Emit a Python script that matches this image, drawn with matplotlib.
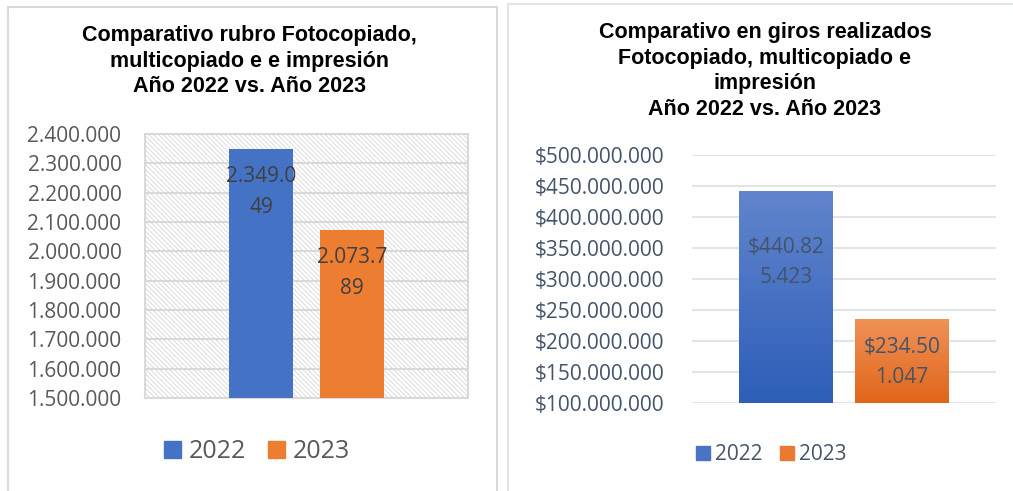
import numpy as np
import matplotlib
matplotlib.use('Agg')
import matplotlib.pyplot as plt
from matplotlib.patches import Rectangle, Patch
from matplotlib.colors import LinearSegmentedColormap

# datos
series = ['2022', '2023']
cantidades = [2349049, 2073789]
etiquetas_cant = ['2.349.0\n49', '2.073.7\n89']
montos = [440825423, 234501047]
etiquetas_monto = ['$440.82\n5.423', '$234.50\n1.047']
ticks_izq = np.arange(1500000, 2400001, 100000)
ticks_der = np.arange(100000000, 500000001, 50000000)

titulo_izq = 'Comparativo rubro Fotocopiado,\nmulticopiado e e impresión\nAño 2022 vs. Año 2023'
titulo_der = 'Comparativo en giros realizados\nFotocopiado, multicopiado e\nimpresión\nAño 2022 vs. Año 2023'

W, H = 1013, 491
FONT = 'Open Sans'
TFONT = 'Liberation Sans'

def fx(x):
    return x / W

def fy(y):
    return 1 - y / H

def miles(v, prefijo=''):
    return prefijo + f'{int(v):,}'.replace(',', '.')

fig = plt.figure(figsize=(W / 100, H / 100), dpi=100)

# marcos de los paneles
fig.add_artist(Rectangle((fx(7.5), fy(520)), fx(489), 520 / H - 6.5 / H,
                         fill=False, edgecolor='#d9d9d9', linewidth=1.5))
fig.add_artist(Rectangle((fx(507.5), fy(520)), fx(600), 520 / H - 4 / H,
                         fill=False, edgecolor='#dfe3ea', linewidth=1.5))

# ---------- grafico izquierdo ----------
ax1 = fig.add_axes([fx(145), fy(398), fx(323), 264 / H])
ax1.set_xlim(-0.5, 0.5)
ax1.set_ylim(1500000, 2400000)
plt.rcParams['hatch.linewidth'] = 0.6
ax1.add_patch(Rectangle((-0.5, 1500000), 1, 900000, facecolor='white',
                        edgecolor='#d6d6d6', hatch='\\' * 7, linewidth=0, zorder=0))
for t in ticks_izq:
    ax1.axhline(t, color='#d9d9d9', linewidth=1.5, zorder=1)
pos1 = [-0.141, 0.141]
cols1 = ['#4472c4', '#ed7d31']
ax1.bar(pos1, cantidades, width=0.198, bottom=0, color=cols1, zorder=3)
for p, v, lab in zip(pos1, cantidades, etiquetas_cant):
    ax1.annotate(lab, (p, v), xytext=(0, -31), textcoords='offset points',
                 ha='center', va='center', fontsize=15, family=FONT,
                 color='#404040', linespacing=1.6, zorder=4)
ax1.set_xticks([])
ax1.set_yticks(ticks_izq)
ax1.set_yticklabels([miles(t) for t in ticks_izq], family=FONT, fontsize=15, color='#595959')
ax1.tick_params(axis='y', length=0, pad=17)
for s in ax1.spines.values():
    s.set_color('#d9d9d9')
    s.set_linewidth(1.5)

fig.text(fx(249), fy(61), titulo_izq, ha='center', va='center', fontsize=15.5,
         family=TFONT, fontweight='bold', linespacing=1.28)

h1 = [Patch(color=c) for c in cols1]
fig.legend(h1, series, loc='center', bbox_to_anchor=(fx(257), fy(452)), ncol=2,
           frameon=False, prop={'family': FONT, 'size': 18}, labelcolor='#595959',
           handlelength=0.68, handleheight=0.68, handletextpad=0.32, columnspacing=0.88)

# ---------- grafico derecho ----------
ax2 = fig.add_axes([fx(692), fy(403), fx(304), 248 / H])
ax2.set_xlim(-0.5, 0.5)
ax2.set_ylim(100000000, 500000000)
for t in ticks_der:
    ax2.axhline(t, color='#e1e4e9', linewidth=1.5, zorder=1)
pos2 = [-0.19, 0.19]
ancho2 = 0.309
grad = [('#2e5eb8', '#6185cd'), ('#e0661a', '#f09157')]
barras = ax2.bar(pos2, montos, width=ancho2, color='none', zorder=3)
for b, (c0, c1) in zip(barras, grad):
    cmap = LinearSegmentedColormap.from_list('g', [c0, c1])
    x0 = b.get_x()
    ax2.imshow(np.linspace(0, 1, 100).reshape(-1, 1), cmap=cmap, origin='lower',
               extent=[x0, x0 + b.get_width(), 100000000, b.get_height()],
               aspect='auto', zorder=3)
ax2.set_xlim(-0.5, 0.5)
ax2.set_ylim(100000000, 500000000)
offs2 = [-51, -31]
for p, v, lab, o in zip(pos2, montos, etiquetas_monto, offs2):
    ax2.annotate(lab, (p, v), xytext=(0, o), textcoords='offset points',
                 ha='center', va='center', fontsize=15, family=FONT,
                 color='#44546a', linespacing=1.6, zorder=4)
ax2.set_xticks([])
ax2.set_yticks(ticks_der)
ax2.set_yticklabels([miles(t, '$') for t in ticks_der], family=FONT, fontsize=15, color='#44546a')
ax2.tick_params(axis='y', length=0, pad=20)
for s in ax2.spines.values():
    s.set_visible(False)

fig.text(fx(765), fy(71), titulo_der, ha='center', va='center', fontsize=15.5,
         family=TFONT, fontweight='bold', linespacing=1.28)

h2 = [Patch(color=c) for c in ['#4a73c4', '#ea7a32']]
fig.legend(h2, series, loc='center', bbox_to_anchor=(fx(771), fy(455)), ncol=2,
           frameon=False, prop={'family': FONT, 'size': 15}, labelcolor='#44546a',
           handlelength=0.67, handleheight=0.67, handletextpad=0.24, columnspacing=0.86)

fig.savefig('out.png', dpi=100)
